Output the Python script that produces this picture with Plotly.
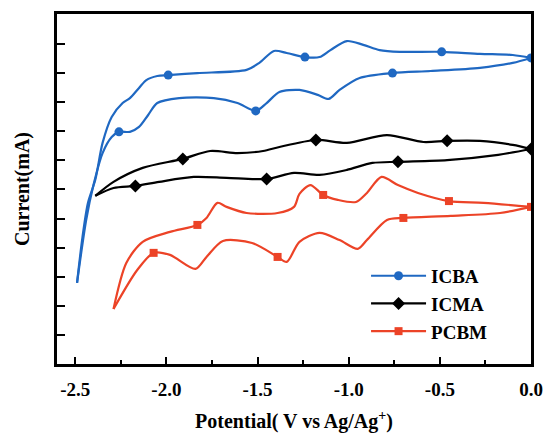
import plotly.graph_objects as go

# ---- data (potential in V vs Ag/Ag+, current in arbitrary offset units) ----
potential_icba = [0.00, -0.10, -0.28, -0.49, -0.72, -0.83, -0.92, -1.01, -1.10, -1.16,
                  -1.24, -1.34, -1.41, -1.49, -1.56, -1.83, -1.99, -2.05, -2.11, -2.15,
                  -2.20, -2.24, -2.30, -2.35, -2.39, -2.43, -2.46, -2.49, -2.44, -2.40,
                  -2.35, -2.30, -2.26, -2.20, -2.15, -2.10, -2.05, -1.93, -1.74, -1.61,
                  -1.51, -1.45, -1.38, -1.27, -1.17, -1.11, -1.05, -0.94, -0.76, -0.55,
                  -0.28, -0.10, 0.00]
current_icba = [9.52, 9.62, 9.66, 9.73, 9.73, 9.79, 9.97, 10.10, 9.79, 9.55,
                9.55, 9.69, 9.76, 9.35, 9.11, 9.00, 8.93, 8.90, 8.76, 8.49,
                8.14, 7.97, 7.49, 6.60, 5.33, 4.54, 3.37, 1.79, 3.95, 5.15,
                6.25, 6.80, 6.98, 6.98, 7.15, 7.56, 7.97, 8.14, 8.14, 7.97,
                7.70, 7.97, 8.35, 8.42, 8.25, 8.11, 8.42, 8.83, 9.00, 9.07,
                9.18, 9.35, 9.52]
markers_icba = [0, 3, 10, 16, 32, 40, 48]

potential_icma = [0.00, -0.10, -0.28, -0.46, -0.59, -0.79, -1.01, -1.18, -1.38, -1.47,
                  -1.61, -1.76, -1.91, -2.13, -2.29, -2.39, -2.29, -2.17, -2.04, -1.85,
                  -1.67, -1.45, -1.30, -1.16, -1.01, -0.87, -0.73, -0.46, -0.18, 0.00]
current_icma = [6.39, 6.53, 6.67, 6.67, 6.63, 6.87, 6.60, 6.70, 6.46, 6.32,
                6.25, 6.32, 6.05, 5.74, 5.26, 4.78, 5.05, 5.12, 5.26, 5.43,
                5.40, 5.36, 5.57, 5.50, 5.67, 5.91, 5.95, 6.01, 6.19, 6.39]
markers_icma = [0, 3, 7, 12, 17, 21, 26]

potential_pcbm = [0.00, -0.26, -0.45, -0.62, -0.73, -0.82, -0.90, -0.96, -1.06, -1.14,
                  -1.21, -1.27, -1.30, -1.39, -1.56, -1.67, -1.72, -1.78, -1.83, -1.98,
                  -2.13, -2.22, -2.29, -2.16, -2.07, -1.98, -1.84, -1.78, -1.69, -1.53,
                  -1.39, -1.34, -1.27, -1.16, -1.05, -0.95, -0.90, -0.79, -0.70, -0.44,
                  -0.17, 0.00]
current_pcbm = [4.40, 4.54, 4.60, 4.88, 5.15, 5.43, 4.88, 4.57, 4.64, 4.81,
                5.15, 4.85, 4.40, 4.19, 4.19, 4.40, 4.54, 4.02, 3.78, 3.54,
                3.20, 2.47, 0.89, 2.23, 2.82, 2.75, 2.27, 2.68, 3.23, 3.16,
                2.68, 2.51, 3.20, 3.51, 3.26, 2.96, 3.26, 3.95, 4.02, 4.09,
                4.19, 4.40]
markers_pcbm = [0, 2, 9, 18, 24, 30, 38]

x_tick_vals = [-2.5, -2.0, -1.5, -1.0, -0.5, 0.0]
x_tick_text = ["-2.5", "-2.0", "-1.5", "-1.0", "-0.5", "0.0"]
x_minor_vals = [-2.25, -1.75, -1.25, -0.75, -0.25]
y_tick_vals = [0, 1, 2, 3, 4, 5, 6, 7, 8, 9, 10]

FONT = "Liberation Serif, Times New Roman, serif"

series = [
    ("ICBA", potential_icba, current_icba, markers_icba, "#1f68c2", "circle", 9),
    ("ICMA", potential_icma, current_icma, markers_icma, "#000000", "diamond", 10),
    ("PCBM", potential_pcbm, current_pcbm, markers_pcbm, "#ec4327", "square", 8),
]


def split_branches(x, y):
    k = x.index(min(x))
    return x[:k + 1] + [None] + x[k:], y[:k + 1] + [None] + y[k:]


fig = go.Figure()
for name, xs, ys, midx, color, symbol, msize in series:
    bx, by = split_branches(xs, ys)
    fig.add_trace(go.Scatter(x=bx, y=by, mode="lines", showlegend=False,
                             line=dict(color=color, width=2.2, shape="spline", smoothing=0.8),
                             connectgaps=False, hoverinfo="skip"))
    fig.add_trace(go.Scatter(x=[xs[i] for i in midx], y=[ys[i] for i in midx],
                             mode="markers", showlegend=False,
                             marker=dict(color=color, symbol=symbol, size=msize)))
    fig.add_trace(go.Scatter(x=[None], y=[None], mode="lines+markers", name=name,
                             line=dict(color=color, width=2.2),
                             marker=dict(color=color, symbol=symbol, size=msize)))

fig.update_layout(
    width=543, height=433, autosize=False,
    template=None,
    paper_bgcolor="white", plot_bgcolor="white",
    margin=dict(l=57, r=12, t=14, b=69),
    font=dict(family=FONT, color="black"),
    showlegend=True,
    legend=dict(x=0.652, y=0.306, xanchor="left", yanchor="top",
                font=dict(family=FONT, size=19, weight="bold", color="black"),
                bgcolor="rgba(0,0,0,0)", itemwidth=55, tracegroupgap=0),
    xaxis=dict(range=[-2.6, 0.0], showline=True, linewidth=2.5, linecolor="black",
               mirror=True, ticks="inside", ticklen=7, tickwidth=2, tickcolor="black",
               tickvals=x_tick_vals, ticktext=x_tick_text,
               tickfont=dict(family=FONT, size=19, weight="bold", color="black"),
               ticklabelstandoff=6,
               minor=dict(tickvals=x_minor_vals, ticks="inside", ticklen=4, tickwidth=2,
                          tickcolor="black"),
               showgrid=False, zeroline=False, automargin=False,
               title=dict(text="Potential( V vs Ag/Ag<sup>+</sup>)", standoff=16,
                          font=dict(family=FONT, size=20, weight="bold", color="black"))),
    yaxis=dict(range=[-1.0, 11.03], showline=True, linewidth=2.5, linecolor="black",
               mirror=True, ticks="inside", ticklen=8, tickwidth=2, tickcolor="black",
               tickvals=y_tick_vals, showticklabels=False,
               showgrid=False, zeroline=False, automargin=False,
               title=dict(text="Current(mA)", standoff=20,
                          font=dict(family=FONT, size=20, weight="bold", color="black"))),
)

fig.write_html("out.html", config={"displayModeBar": False},
               post_script="document.body.style.margin='0';document.body.style.overflow='hidden';")
